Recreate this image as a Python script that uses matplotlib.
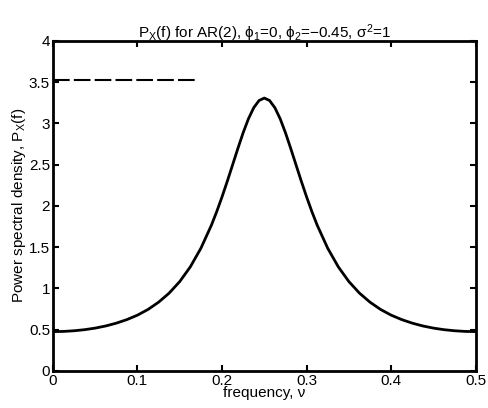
import numpy as np
import matplotlib
matplotlib.use("Agg")
import matplotlib.pyplot as plt

# values (symmetric peak at 0.25)
freq = [0.0, 0.0125, 0.025, 0.0375, 0.05, 0.0625, 0.075, 0.0875, 0.1, 0.1125,
        0.125, 0.1375, 0.15, 0.1625, 0.175, 0.1875, 0.19375, 0.2, 0.20625, 0.2125,
        0.21875, 0.225, 0.23125, 0.2375, 0.24375,
        0.25, 0.25625, 0.2625, 0.26875, 0.275, 0.28125, 0.2875, 0.29375, 0.3,
        0.30625, 0.3125, 0.325, 0.3375, 0.35, 0.3625,
        0.375, 0.3875, 0.4, 0.4125, 0.425, 0.4375, 0.45, 0.4625, 0.475, 0.4875, 0.5]
psd = [0.476, 0.478, 0.486, 0.499, 0.518, 0.544, 0.578, 0.621, 0.675, 0.744,
       0.832, 0.942, 1.082, 1.260, 1.485, 1.766, 1.930, 2.108, 2.298, 2.496,
       2.695, 2.886, 3.055, 3.189, 3.276,
       3.306, 3.276, 3.189, 3.055, 2.886, 2.695, 2.496, 2.298, 2.108,
       1.930, 1.766, 1.485, 1.260, 1.082, 0.942,
       0.832, 0.744, 0.675, 0.621, 0.578, 0.544, 0.518, 0.499, 0.486, 0.478, 0.476]

# stray dashed stroke near the top left of the scan
stray_x = [0.0, 0.17]
stray_y = [3.53, 3.53]

xticks = [0, 0.1, 0.2, 0.3, 0.4, 0.5]
xticklabels = ["0", "0.1", "0.2", "0.3", "0.4", "0.5"]
yticks = [0, 0.5, 1, 1.5, 2, 2.5, 3, 3.5, 4]
yticklabels = ["0", "0.5", "1", "1.5", "2", "2.5", "3", "3.5", "4"]

plt.rcParams['font.family'] = ['Liberation Sans', 'DejaVu Sans']
plt.rcParams['mathtext.fontset'] = 'custom'
plt.rcParams['mathtext.rm'] = 'Liberation Sans'
plt.rcParams['mathtext.it'] = 'Liberation Sans'

fig = plt.figure(figsize=(4.89, 4.08), dpi=100)
ax = fig.add_axes([0.108, 0.091, 0.865, 0.809])

ax.plot(freq, psd, color='black', linewidth=2)
ax.plot(stray_x, stray_y, color='black', linewidth=1.5, linestyle=(0, (8, 2)))

ax.set_xlim(0, 0.5)
ax.set_ylim(0, 4)
ax.set_xticks(xticks)
ax.set_xticklabels(xticklabels)
ax.set_yticks(yticks)
ax.set_yticklabels(yticklabels)
ax.tick_params(direction='in', length=4, width=1.5, labelsize=11, top=True, right=True, pad=2)
for s in ax.spines.values():
    s.set_linewidth(2)

ax.set_title('P$_X$(f) for AR(2), $\\phi_1$=0, $\\phi_2$=\u22120.45, $\\sigma^2$=1',
             fontsize=11, pad=2)
ax.set_xlabel('frequency, \u03bd', fontsize=11, labelpad=-1)
ax.set_ylabel('Power spectral density, P$_X$(f)', fontsize=11, labelpad=1)

fig.savefig('out.png', dpi=100)
